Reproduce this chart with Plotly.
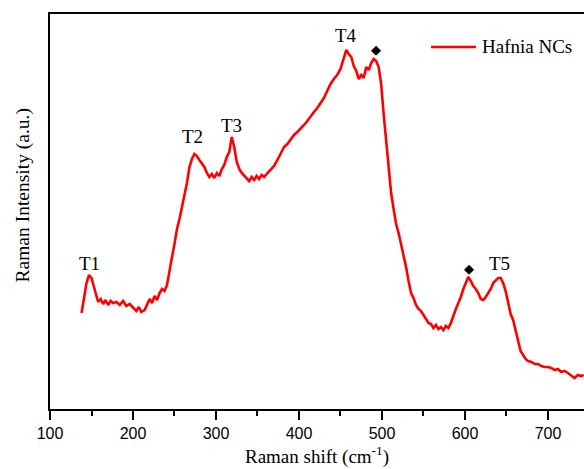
import plotly.graph_objects as go

# Raman spectrum of Hafnia NCs (arbitrary units)
shift = [138, 141, 144, 147, 150, 153, 156, 158, 161, 164, 167, 170, 173, 176, 180,
         184, 188, 192, 196, 200, 204, 207, 210, 214, 217, 220, 223, 226, 229, 232, 235,
         238, 241, 244, 247, 250, 253, 256, 259, 262, 265, 268, 271, 274, 277, 280, 283,
         286, 289, 292, 295, 298, 301, 304, 307, 310, 313, 316, 319, 322, 325, 328, 331,
         334, 337, 340, 343, 346, 349, 352, 355, 358, 362, 366, 370, 374, 378, 382, 386,
         390, 394, 398, 402, 406, 410, 414, 418, 422, 426, 430, 434, 438, 442, 446, 450,
         454, 457, 460, 463, 466, 469, 472, 475, 478, 481, 484, 487, 490, 493, 496, 499,
         502, 505, 508, 511, 514, 517, 520, 523, 526, 529, 532, 535, 538, 541, 544, 547,
         550, 553, 556, 559, 562, 565, 568, 571, 574, 577, 580, 583, 586, 589, 592, 595,
         598, 601, 604, 607, 610, 613, 616, 619, 622, 625, 628, 631, 634, 637, 640, 643,
         646, 649, 652, 655, 658, 661, 664, 667, 670, 673, 676, 680, 684, 688, 692, 696,
         700, 704, 708, 712, 716, 720, 724, 728, 732, 736, 740, 743]
intensity = [96, 112, 126, 134, 131, 122, 112, 107, 110, 105, 109, 104, 108, 106, 107,
             104, 108, 103, 105, 101, 98, 102, 97, 99, 104, 110, 106, 113, 109, 116, 120,
             118, 124, 140, 152, 165, 180, 190, 201, 212, 226, 242, 250, 255, 253, 249, 246,
             242, 236, 232, 235, 231, 236, 233, 240, 244, 252, 257, 272, 262, 247, 240, 236,
             233, 230, 228, 232, 229, 233, 230, 234, 232, 236, 240, 243, 249, 256, 262, 265,
             270, 274, 277, 280, 284, 288, 293, 297, 301, 306, 311, 318, 325, 330, 334, 340,
             350, 359, 355, 352, 343, 338, 330, 334, 331, 342, 339, 346, 350, 348, 342, 325,
             295, 270, 240, 216, 200, 185, 176, 165, 152, 142, 128, 116, 111, 104, 100, 98,
             94, 90, 86, 85, 81, 84, 80, 82, 79, 83, 81, 86, 94, 100, 106, 112,
             120, 127, 132, 128, 123, 120, 116, 110, 109, 112, 116, 120, 126, 129, 131, 131,
             126, 118, 106, 95, 89, 78, 66, 58, 54, 50, 48, 47, 45, 45, 43, 42,
             42, 41, 39, 40, 37, 38, 36, 33, 31, 34, 33, 34]

tick_vals = [100, 200, 300, 400, 500, 600, 700]
tick_text = ["100", "200", "300", "400", "500", "600", "700"]

peak_labels = ["T1", "T2", "T3", "T4", "T5"]
peak_x = [148, 272, 319, 457, 642]
peak_y = [146, 273, 284, 374, 146]

marker_x = [493, 605]
marker_y = [360, 141]

series_name = "Hafnia NCs"

serif = "Liberation Serif, Times New Roman, serif"
sans = "Liberation Sans, Arial, sans-serif"
red = "#ff0000"

fig = go.Figure()
fig.add_trace(go.Scatter(x=shift, y=intensity, mode="lines", name=series_name,
                         showlegend=False, line=dict(color=red, width=2.6)))

for lab, px, py in zip(peak_labels, peak_x, peak_y):
    fig.add_annotation(x=px, y=py, text=lab, showarrow=False,
                       font=dict(family=serif, size=19, color="black"))
for mx, my in zip(marker_x, marker_y):
    fig.add_annotation(x=mx, y=my, text="\u25c6", showarrow=False,
                       font=dict(family=sans, size=13, color="black"))

# legend drawn as a line sample plus a label
fig.add_shape(type="line", xref="paper", yref="paper",
              x0=0.7135, x1=0.7978, y0=0.9165, y1=0.9165,
              line=dict(color=red, width=2.6))
fig.add_annotation(xref="paper", yref="paper", x=0.805, y=0.9165,
                   xanchor="left", yanchor="middle", text=series_name,
                   showarrow=False, font=dict(family=serif, size=19, color="black"))

fig.add_annotation(xref="paper", yref="paper", x=-0.051, y=0.54,
                   xanchor="center", yanchor="middle",
                   text="Raman Intensity (a.u.)", textangle=-90, showarrow=False,
                   font=dict(family=serif, size=19.5, color="black"))

fig.update_layout(
    width=584, height=469,
    margin=dict(l=50, r=0, t=14, b=60),
    paper_bgcolor="white", plot_bgcolor="white",
    showlegend=False,
    xaxis=dict(range=[100, 743.4], tickvals=tick_vals, ticktext=tick_text,
               ticks="outside", ticklen=9, tickwidth=1.5, tickcolor="black",
               minor=dict(dtick=50, tick0=50, ticks="outside", ticklen=5, tickwidth=1.5,
                          tickcolor="black"),
               showline=True, linecolor="black", linewidth=2, mirror=True,
               showgrid=False, zeroline=False,
               tickfont=dict(family=sans, size=16, color="black"),
               title=dict(text="Raman shift (cm<sup>-1</sup>)", standoff=8,
                          font=dict(family=serif, size=19, color="black"))),
    yaxis=dict(range=[0, 395], showticklabels=False, ticks="",
               showline=True, linecolor="black", linewidth=2, mirror=False,
               showgrid=False, zeroline=False),
)

fig.write_html("out.html", config={"displayModeBar": False})

# remove the browser's default page margin so the figure sits at the window origin
with open("out.html", "r", encoding="utf-8") as f:
    html = f.read()
html = html.replace("<body>", '<body style="margin:0;overflow:hidden">', 1)
with open("out.html", "w", encoding="utf-8") as f:
    f.write(html)
